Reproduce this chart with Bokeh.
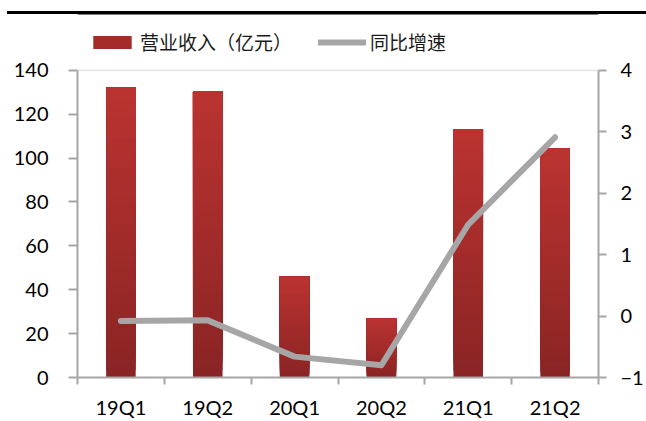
from bokeh.plotting import figure
from bokeh.models import (Range1d, LinearAxis, FixedTicker, ColumnDataSource,
                          Legend, LegendItem)
from bokeh.embed import file_html
from bokeh.resources import INLINE

categories = ["19Q1", "19Q2", "20Q1", "20Q2", "21Q1", "21Q2"]
revenue = [132.3, 130.5, 45.9, 26.8, 113.2, 104.4]   # 营业收入（亿元）
growth = [-0.08, -0.07, -0.66, -0.80, 1.49, 2.91]    # 同比增速
left_ticks = [0, 20, 40, 60, 80, 100, 120, 140]
right_ticks = [-1, 0, 1, 2, 3, 4]

xs = [i + 0.5 for i in range(len(categories))]

# layout (pixels)
W, H = 646, 421
BORDER_L, BORDER_R, BORDER_B = 77, 46, 43
AXIS_TOP = 70                      # where the top ticks (140 / 4) sit
FRAME_H = H - BORDER_B             # frame reaches the top of the canvas
AXIS_H = FRAME_H - AXIS_TOP        # pixel height of the value axes
RULE_Y = 12.5                      # black rule, pixels from the top

L0, L1 = left_ticks[0], left_ticks[-1]
R0, R1 = right_ticks[0], right_ticks[-1]
left_top = L0 + (L1 - L0) * FRAME_H / AXIS_H
right_top = R0 + (R1 - R0) * FRAME_H / AXIS_H
rule_val = L0 + (L1 - L0) * (FRAME_H - RULE_Y) / AXIS_H

# vertical gradient for each bar (bottom dark -> top lighter red),
# drawn as overlapping layers so no seams appear
N = 40
c_bot = (138, 36, 36)
c_top = (186, 51, 49)
seg = dict(x=[], top=[], bottom=[], color=[])
for k in range(N):
    f = k / (N - 1)
    c = tuple(int(round(c_bot[j] + (c_top[j] - c_bot[j]) * f)) for j in range(3))
    for x, v in zip(xs, revenue):
        seg["x"].append(x)
        seg["bottom"].append(v * k / N)
        seg["top"].append(v)
        seg["color"].append("#%02x%02x%02x" % c)
src = ColumnDataSource(seg)

p = figure(width=W, height=H, output_backend="svg", toolbar_location=None,
           x_range=Range1d(0, len(categories)), y_range=Range1d(L0, left_top),
           min_border_left=BORDER_L, min_border_right=BORDER_R, min_border_top=0,
           min_border_bottom=BORDER_B, background_fill_color=None,
           border_fill_color=None)
# page background + black rule across the top (CSS on the figure element,
# visible in the border areas left and right of the plot frame)
p.styles = {"background-color": "white",
            "background-image": "linear-gradient(#000, #000)",
            "background-size": "639px 3px",
            "background-position": "7px 11px",
            "background-repeat": "no-repeat"}
p.extra_y_ranges = {"right": Range1d(R0, right_top)}
p.xgrid.visible = False
p.ygrid.visible = False
p.outline_line_color = None

x_lo, x_hi = 0, len(categories)
# black rule across the frame width
p.segment(x0=[x_lo], x1=[x_hi], y0=[rule_val], y1=[rule_val],
          line_color="black", line_width=3)
# light top border of the plot area
p.segment(x0=[x_lo], x1=[x_hi], y0=[L1], y1=[L1],
          line_color="#D9D9D9", line_width=1)

bars = p.vbar(x="x", top="top", bottom="bottom", width=0.34, source=src,
              fill_color="color", line_color=None)

line = p.line(xs, growth, y_range_name="right", line_color="#A6A6A6",
              line_width=6, line_cap="round", line_join="round")

axis_color = "#A6A6A6"
font = "Lato"
fs = "20px"

# left axis
yl = p.yaxis[0]
yl.ticker = FixedTicker(ticks=left_ticks)
yl.bounds = (L0, L1)
yl.major_tick_out = 9
yl.major_tick_in = 0
yl.minor_tick_out = 0
yl.minor_tick_in = 0
yl.major_label_standoff = 20
yl.axis_line_color = axis_color
yl.axis_line_width = 2
yl.major_tick_line_color = axis_color
yl.major_tick_line_width = 2
yl.major_label_text_font = font
yl.major_label_text_font_size = fs
yl.major_label_text_color = "black"

# right axis
yr = LinearAxis(y_range_name="right", ticker=FixedTicker(ticks=right_ticks),
                bounds=(R0, R1))
yr.major_tick_out = 8
yr.major_tick_in = 0
yr.minor_tick_out = 0
yr.minor_tick_in = 0
yr.major_label_standoff = 14
yr.axis_line_color = axis_color
yr.axis_line_width = 2
yr.major_tick_line_color = axis_color
yr.major_tick_line_width = 2
yr.major_label_text_font = font
yr.major_label_text_font_size = fs
yr.major_label_text_color = "black"
p.add_layout(yr, "right")

# bottom axis: labels at centers, tick marks at boundaries
xa = p.xaxis[0]
xa.ticker = FixedTicker(ticks=xs, minor_ticks=list(range(len(categories) + 1)))
xa.major_label_overrides = {x: c for x, c in zip(xs, categories)}
xa.major_tick_out = 0
xa.major_tick_in = 0
xa.minor_tick_out = 7
xa.minor_tick_in = 0
xa.minor_tick_line_color = axis_color
xa.minor_tick_line_width = 2
xa.major_label_standoff = 10
xa.axis_line_color = axis_color
xa.axis_line_width = 2
xa.major_label_text_font = font
xa.major_label_text_font_size = fs
xa.major_label_text_color = "black"

legend = Legend(items=[LegendItem(label="营业收入（亿元）", renderers=[bars], index=(N // 2) * len(xs)),
                       LegendItem(label="同比增速", renderers=[line])],
                location=(11, FRAME_H - 56), orientation="horizontal",
                glyph_width=48, glyph_height=16, label_standoff=4, spacing=26,
                padding=0, margin=0, border_line_color=None,
                background_fill_alpha=0,
                label_text_font="Noto Sans CJK SC", label_text_font_size="19px",
                label_text_color="#1a1a1a")
p.add_layout(legend)

open("out.html", "w").write(file_html(p, INLINE))
